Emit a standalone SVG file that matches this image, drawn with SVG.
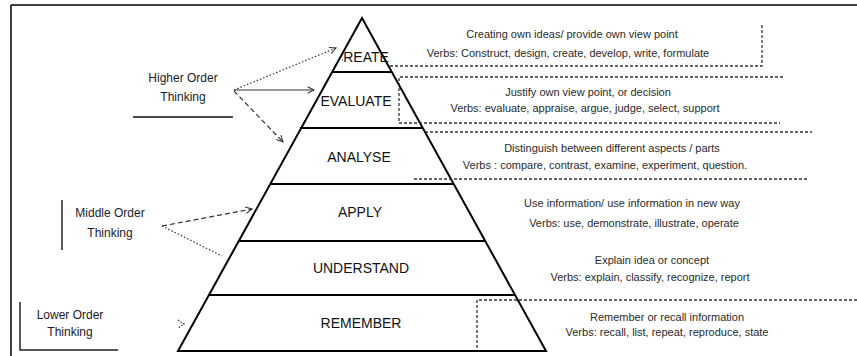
<svg xmlns="http://www.w3.org/2000/svg" width="857" height="356" viewBox="0 0 857 356">
<style>
  .lbl{font-family:"Liberation Sans",Arial,sans-serif;font-size:14px;fill:#111;text-anchor:middle}
  .desc{font-family:"Liberation Sans",Arial,sans-serif;font-size:11px;fill:#2a2a2a;text-anchor:middle}
  .side{font-family:"Liberation Sans",Arial,sans-serif;font-size:12px;fill:#1a1a2a;text-anchor:middle}
  .edge{stroke:#000;stroke-width:2;fill:none}
  .lvl{stroke:#000;stroke-width:2}
  .box{stroke:#333;stroke-width:1.3;stroke-dasharray:3 2;fill:none}
  .frame{stroke:#000;stroke-width:1.5;fill:none}
  .con{fill:none;stroke:#333;stroke-width:1.2}
</style>
<defs>
  <marker id="ah" viewBox="0 0 10 10" refX="9" refY="5" markerWidth="8" markerHeight="8" orient="auto" markerUnits="userSpaceOnUse">
    <path d="M1,1 L9,5 L1,9" fill="none" stroke="#333" stroke-width="1.3"/>
  </marker>
  <clipPath id="clipc"><rect x="342" y="40" width="60" height="30"/></clipPath>
</defs>

<g id="frame">
  <line class="frame" x1="11" y1="5" x2="857" y2="5"/>
  <line class="frame" x1="11" y1="5" x2="11" y2="356"/>
</g>

<g id="pyramid">
  <polygon class="edge" points="362,18 178,351 546,351"/>
  <line class="lvl" x1="332" y1="72" x2="392" y2="72"/>
  <line class="lvl" x1="300" y1="128" x2="423" y2="128"/>
  <line class="lvl" x1="270" y1="184" x2="454" y2="184"/>
  <line class="lvl" x1="239" y1="241" x2="485" y2="241"/>
  <line class="lvl" x1="208" y1="295" x2="515" y2="295" stroke-width="3"/>
</g>

<g id="create">
  <text class="lbl" x="361" y="62" font-size="12.5" clip-path="url(#clipc)">CREATE</text>
  <path class="box" d="M390,66 H762 V24"/>
  <text class="desc" x="572" y="38">Creating own ideas/ provide own view point</text>
  <text class="desc" x="568" y="57">Verbs: Construct, design, create, develop, write, formulate</text>
</g>

<g id="evaluate">
  <text class="lbl" x="356" y="106">EVALUATE</text>
  <path class="box" d="M783,77 H399 V123 H780"/>
  <text class="desc" x="588" y="96">Justify own view point, or decision</text>
  <text class="desc" x="585" y="112">Verbs: evaluate, appraise, argue, judge, select, support</text>
</g>

<g id="analyse">
  <text class="lbl" x="359" y="162">ANALYSE</text>
  <line class="box" x1="425" y1="132" x2="812" y2="132"/>
  <line class="box" x1="414" y1="179" x2="808" y2="179"/>
  <text class="desc" x="612" y="152">Distinguish between different aspects / parts</text>
  <text class="desc" x="605" y="169">Verbs : compare, contrast, examine, experiment, question.</text>
</g>

<g id="apply">
  <text class="lbl" x="360" y="217">APPLY</text>
  <text class="desc" x="632" y="207">Use information/ use information in new way</text>
  <text class="desc" x="634" y="227">Verbs: use, demonstrate, illustrate, operate</text>
</g>

<g id="understand">
  <text class="lbl" x="361" y="273">UNDERSTAND</text>
  <text class="desc" x="652" y="264">Explain idea or concept</text>
  <text class="desc" x="650" y="281">Verbs: explain, classify, recognize, report</text>
</g>

<g id="remember">
  <text class="lbl" x="361" y="328">REMEMBER</text>
  <path class="box" d="M477,348 V300 H857"/>
  <text class="desc" x="667" y="321">Remember or recall information</text>
  <text class="desc" x="667" y="336">Verbs: recall, list, repeat, reproduce, state</text>
</g>

<g id="higher">
  <text class="side" x="183" y="82">Higher Order</text>
  <text class="side" x="183" y="101">Thinking</text>
  <line x1="133" y1="117" x2="233" y2="117" stroke="#111" stroke-width="1.5"/>
</g>

<g id="middle">
  <line x1="62" y1="200" x2="62" y2="250" stroke="#222" stroke-width="1.5"/>
  <text class="side" x="110" y="217">Middle Order</text>
  <text class="side" x="110" y="237">Thinking</text>
</g>

<g id="lower">
  <path d="M20,302 V350 H118" fill="none" stroke="#222" stroke-width="1.5"/>
  <text class="side" x="70" y="319">Lower Order</text>
  <text class="side" x="70" y="336">Thinking</text>
</g>

<g id="connectors">
  <line class="con" x1="234" y1="90" x2="336" y2="48" stroke-dasharray="1.5 2" marker-end="url(#ah)"/>
  <line class="con" x1="234" y1="90" x2="314" y2="90" stroke="#111" stroke-width="1.4" marker-end="url(#ah)"/>
  <line class="con" x1="234" y1="91" x2="283" y2="142" stroke-dasharray="5 3" stroke="#777" marker-end="url(#ah)"/>
  <line class="con" x1="162" y1="226" x2="252" y2="209" stroke-dasharray="5 3" marker-end="url(#ah)"/>
  <line class="con" x1="162" y1="226" x2="222" y2="256" stroke-dasharray="1.5 2"/>
  <path class="con" d="M178,320 L184,324 L178,328" stroke-dasharray="1.5 1.5"/>
</g>
</svg>
